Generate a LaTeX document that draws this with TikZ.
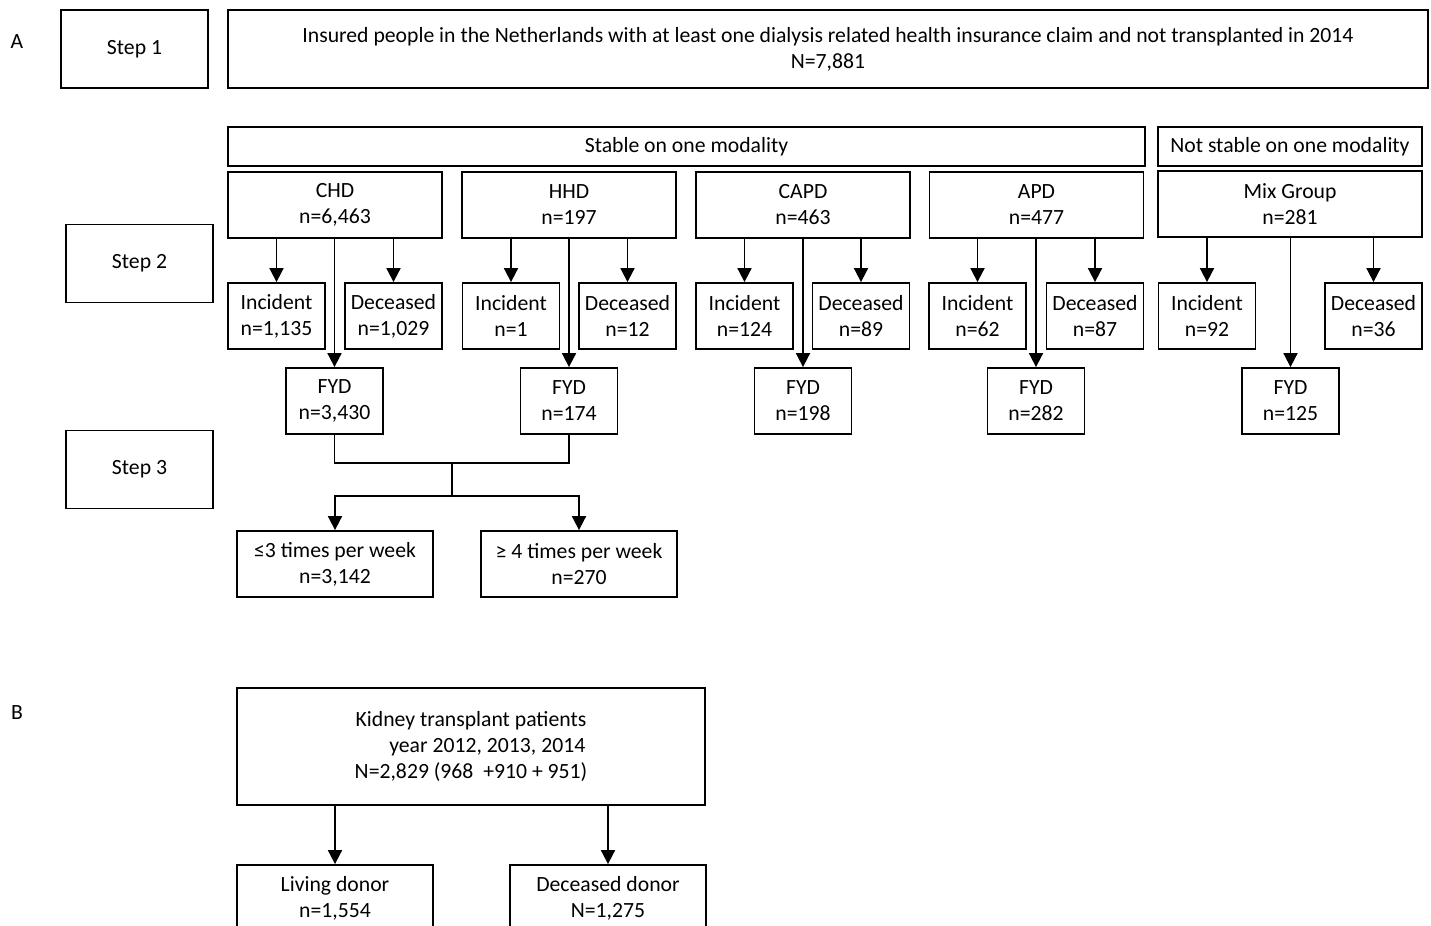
\documentclass[tikz,border=0pt]{standalone}
\usepackage{fontspec}
\setmainfont{Carlito}
\usetikzlibrary{arrows.meta}

\begin{document}
\begin{tikzpicture}[x=0.5pt, y=-0.5pt,
    box/.style={draw, rectangle, line width=0.9pt, inner sep=0pt, align=center, font=\fontsize{10.85}{13}\selectfont},
    stepbox/.style={box, minimum width=73.5pt, minimum height=39pt},
    grpbox/.style={box, minimum width=107pt, minimum height=33pt},
    subbox/.style={box, minimum width=48.5pt, minimum height=33pt},
    widebox/.style={box, minimum width=98pt, minimum height=33pt},
    arr/.style={-{Triangle[width=7pt, length=7pt]}, line width=0.9pt}]
        \useasboundingbox (0,0) rectangle (1431,926);
        \fill[white] (0,0) rectangle (1431,926);
        \clip (0,0) rectangle (1431,926);

        \node[font=\fontsize{10.85}{13}\selectfont] (labA) at (17,42) {A};
        \node[stepbox] (step1) at (134.5,49) {Step 1};
        \node[box, minimum width=600pt, minimum height=39pt] (insured) at (828,49) {Insured people in the Netherlands with at least one dialysis related health insurance claim and not transplanted in 2014\\N=7,881};

        \node[box, minimum width=458.5pt, minimum height=19.5pt] (stable) at (686.5,146.5) {Stable on one modality};
        \node[box, minimum width=132pt, minimum height=19.5pt] (notstable) at (1290,146.5) {Not stable on one modality};

        \node[grpbox] (chd) at (335,205) {CHD\\n=6,463};
        \node[grpbox] (hhd) at (569,205) {HHD\\n=197};
        \node[grpbox] (capd) at (803,205) {CAPD\\n=463};
        \node[grpbox] (apd) at (1036.5,205) {APD\\n=477};
        \node[box, minimum width=132pt, minimum height=33pt] (mix) at (1290,204) {Mix Group\\n=281};

        \node[stepbox] (step2) at (139.5,263.5) {Step 2};

        \node[subbox] (chdinc) at (276.5,316) {Incident\\n=1,135};
        \node[subbox] (chddec) at (393.5,316) {Deceased\\n=1,029};
        \node[subbox] (hhdinc) at (511,316) {Incident\\n=1};
        \node[subbox] (hhddec) at (627.5,316) {Deceased\\n=12};
        \node[subbox] (capdinc) at (744.5,316) {Incident\\n=124};
        \node[subbox] (capddec) at (861,316) {Deceased\\n=89};
        \node[subbox] (apdinc) at (977.5,316) {Incident\\n=62};
        \node[subbox] (apddec) at (1095,316) {Deceased\\n=87};
        \node[subbox] (mixinc) at (1207,316) {Incident\\n=92};
        \node[subbox] (mixdec) at (1373.5,316) {Deceased\\n=36};

        \node[subbox] (chdfyd) at (334.5,401) {FYD\\n=3,430};
        \node[subbox] (hhdfyd) at (569,401) {FYD\\n=174};
        \node[subbox] (capdfyd) at (803,401) {FYD\\n=198};
        \node[subbox] (apdfyd) at (1036,401) {FYD\\n=282};
        \node[subbox] (mixfyd) at (1290.5,401) {FYD\\n=125};

        \node[stepbox] (step3) at (139.5,469.5) {Step 3};
        \node[widebox] (lethree) at (335,564) {≤3 times per week\\n=3,142};
        \node[widebox] (gefour) at (579,564) {≥ 4 times per week\\n=270};

        \node[font=\fontsize{10.85}{13}\selectfont] (labB) at (17,713) {B};
        \node[box, minimum width=234pt, minimum height=58.5pt] (kidney) at (471,746.5) {Kidney transplant patients\\\hspace*{1.5em}year 2012, 2013, 2014\\N=2,829 (968\ \ +910 + 951)};
        \node[widebox] (living) at (335,898) {Living donor\\n=1,554};
        \node[widebox] (deceased) at (608,898) {Deceased donor\\N=1,275};

        \foreach \g in {chd, hhd, capd, apd, mix}
        {
            \draw[arr] (\g inc.north |- \g.south) -- (\g inc.north);
            \draw[arr] (\g dec.north |- \g.south) -- (\g dec.north);
            \draw[arr] (\g fyd.north |- \g.south) -- (\g fyd.north);
        }

        \coordinate (join) at (452,463);
        \coordinate (split) at (452,496);
        \draw[line width=0.9pt] (chdfyd.south) |- (join) -| (hhdfyd.south);
        \draw[line width=0.9pt] (join) -- (split);
        \draw[arr] (split) -| (lethree.north);
        \draw[arr] (split) -| (gefour.north);

        \draw[arr] (living.north |- kidney.south) -- (living.north);
        \draw[arr] (deceased.north |- kidney.south) -- (deceased.north);
    \end{tikzpicture}
\end{document}
